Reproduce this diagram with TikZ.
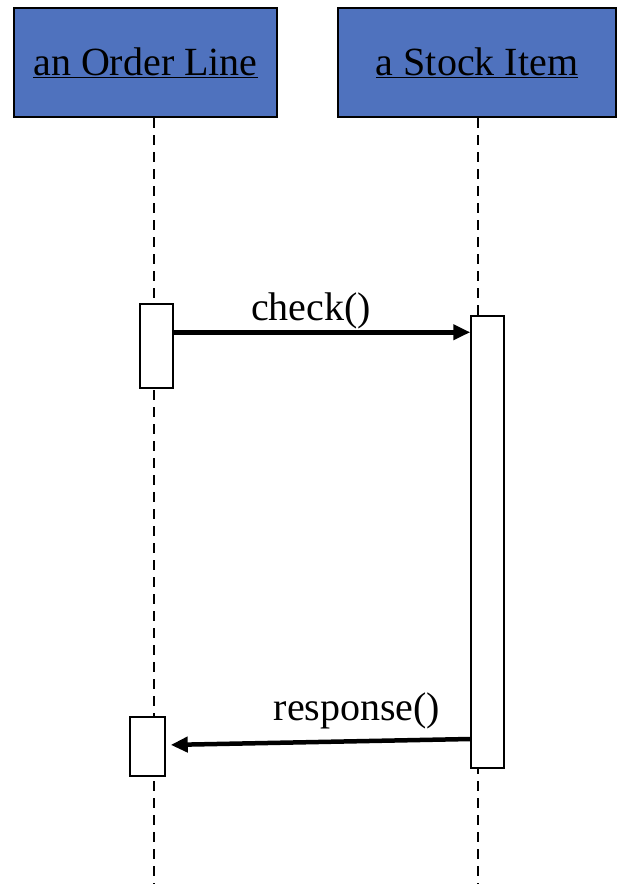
\documentclass[tikz,border=0pt]{standalone}
\usepackage{fontspec}
\setmainfont{Liberation Serif}
\usetikzlibrary{arrows.meta}
\definecolor{objblue}{RGB}{79,114,190}
\begin{document}
\begin{tikzpicture}[x=1pt,y=-1pt,
  objbox/.style={draw=black,line width=2pt,fill=objblue,inner sep=0pt,
    font=\fontsize{40}{48}\selectfont},
  actbox/.style={draw=black,line width=1.5pt,fill=white,inner sep=0pt},
  lifeline/.style={line width=2.2pt,dash pattern=on 10pt off 7pt},
  msg/.style={line width=4.5pt,-{Triangle[length=17pt,width=15pt]}},
  msglabel/.style={font=\fontsize{40}{48}\selectfont,inner sep=0pt}]
\useasboundingbox (0,0) rectangle (636,894);
\fill[white] (0,0) rectangle (636,894);
\node[objbox,minimum width=263pt,minimum height=109pt] (ol) at (145.5,62.5) {\underline{an Order Line}};
\node[objbox,minimum width=278pt,minimum height=109pt] (si) at (477,62.5) {\underline{a Stock Item}};
\coordinate (ol-end) at (154,884);
\coordinate (si-end) at (478,884);
\draw[lifeline] (ol.south -| ol-end) -- (ol-end);
\draw[lifeline] (si.south -| si-end) -- (si-end);
\node[actbox,minimum width=33pt,minimum height=84pt] (a1) at (156.5,346) {};
\node[actbox,minimum width=33pt,minimum height=452pt] (a2) at (487.5,542) {};
\node[actbox,minimum width=35pt,minimum height=59pt] (a3) at (147.5,746.5) {};
\draw[msg] ([yshift=-29pt]a1.north east) -- ([yshift=-17pt]a2.north west);
\draw[msg,shorten >=5pt] ([yshift=-197pt]a2.west) -- ([yshift=1.5pt]a3.east);
\node[msglabel] (l1) at (311,311) {check()};
\node[msglabel] (l2) at (357,711) {response()};
\end{tikzpicture}
\end{document}
